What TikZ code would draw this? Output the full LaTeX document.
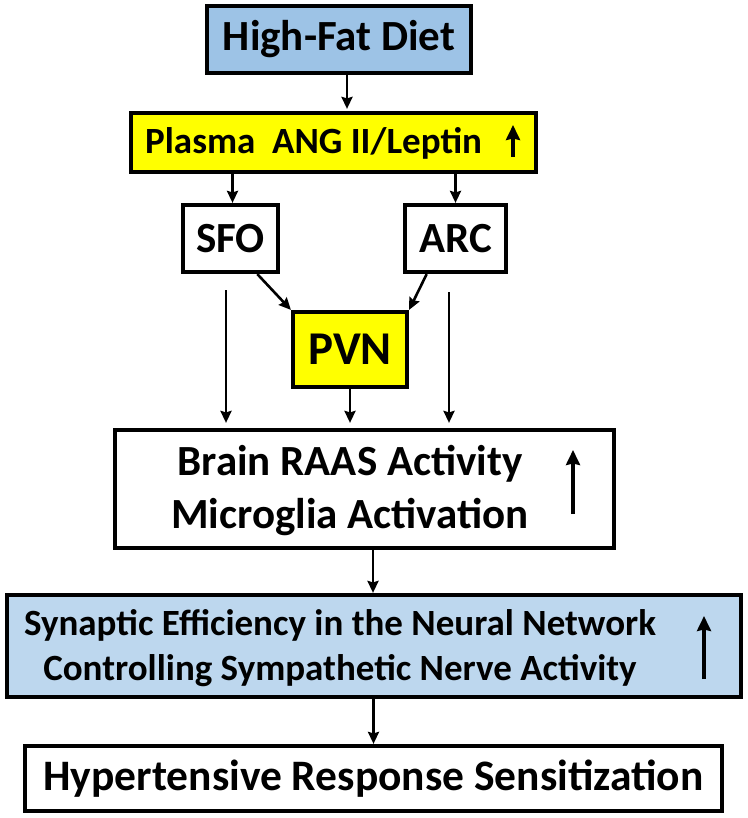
\documentclass[tikz,border=0pt]{standalone}
\usepackage{fontspec}
\setmainfont{Carlito}
\usetikzlibrary{arrows.meta}
\definecolor{dietblue}{HTML}{9DC3E6}
\definecolor{synblue}{HTML}{BDD7EE}
\definecolor{plasmayellow}{HTML}{FFFF00}

\begin{document}
\begin{tikzpicture}[x=1pt,y=-1pt,
  box/.style={draw,line width=4.2pt,inner sep=0pt,font=\bfseries},
  arr/.style={-{Stealth[length=12pt,width=11pt,inset=1.5pt]},line width=2.6pt},
  uparr/.style={-{Stealth[length=15pt,width=14pt,inset=1.5pt]},line width=3.2pt}]
\useasboundingbox (0,0) rectangle (747,818);
% boxes
\node[box,fill=dietblue,minimum width=264,minimum height=67,font=\fontsize{43}{50}\bfseries](diet) at (339,39.5){High-Fat Diet};
\node[box,fill=plasmayellow,minimum width=405,minimum height=59](plasma) at (333.5,142.5){};
\node[box,minimum width=95,minimum height=67,font=\fontsize{43}{50}\bfseries](sfo) at (230.5,238.5){SFO};
\node[box,minimum width=101,minimum height=67,font=\fontsize{43}{50}\bfseries](arc) at (455.5,238.5){ARC};
\node[box,fill=plasmayellow,minimum width=114,minimum height=75,font=\fontsize{47}{55}\bfseries](pvn) at (350,349.5){PVN};
\node[box,minimum width=499,minimum height=118](raas) at (364.5,489){};
\node[box,fill=synblue,minimum width=734,minimum height=102](syn) at (374,646){};
\node[box,minimum width=697,minimum height=65,font=\fontsize{43.5}{50}\bfseries](hyper) at (373.5,778.5){Hypertensive Response Sensitization};
% texts beside the up arrows
\node[anchor=base west,inner sep=0pt,font=\fontsize{37}{44}\bfseries](plasmatext) at (145,154){Plasma\ \ ANG II/Leptin};
\node[anchor=base,inner sep=0pt,align=center,font=\fontsize{43}{53}\bfseries](raastext) at (350,528){Brain RAAS Activity\\Microglia Activation};
\node[anchor=base,inner sep=0pt,align=center,font=\fontsize{37}{45}\bfseries](syntext) at (340,680){Synaptic Efficiency in the Neural Network\\Controlling Sympathetic Nerve Activity};
% up arrows
\draw[uparr] (513,157) -- (513,125);
\draw[uparr] (573,514) -- (573,450);
\draw[uparr] (704,679) -- (704,616);
% connectors
\draw[arr,shorten >=2pt] ([xshift=8pt]diet.south) -- ([xshift=8pt]diet.south |- plasma.north);
\draw[arr] ([xshift=2pt]sfo.north |- plasma.south) -- ([xshift=2pt]sfo.north);
\draw[arr] (arc.north |- plasma.south) -- (arc.north);
\draw[arr] (sfo.-53) -- (pvn.north west);
\draw[arr] (arc.231) -- (pvn.north east);
\draw[arr,shorten >=5pt] ([xshift=-4.5pt,yshift=-16pt]sfo.south) -- ([xshift=-4.5pt]sfo.south |- raas.north);
\draw[arr,shorten >=5pt] (pvn.south) -- (pvn.south |- raas.north);
\draw[arr,shorten >=5pt] ([xshift=-6.5pt,yshift=-18pt]arc.south) -- ([xshift=-6.5pt]arc.south |- raas.north);
\draw[arr] ([xshift=-1pt]syn.north |- raas.south) -- ([xshift=-1pt]syn.north);
\draw[arr] (hyper.north |- syn.south) -- (hyper.north);
\end{tikzpicture}
\end{document}
